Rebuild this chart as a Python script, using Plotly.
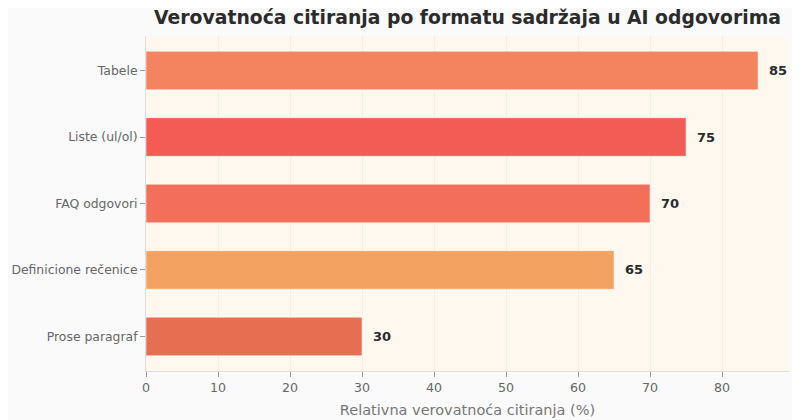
import plotly.graph_objects as go

# podaci
categories = ["Prose paragraf", "Definicione rečenice", "FAQ odgovori", "Liste (ul/ol)", "Tabele"]
values = [30, 65, 70, 75, 85]
colors = ["#E76F51", "#F4A261", "#F27059", "#F25C54", "#F4845F"]
x_ticks = [0, 10, 20, 30, 40, 50, 60, 70, 80]

fig = go.Figure()
fig.add_trace(go.Bar(
    x=values,
    y=categories,
    orientation="h",
    marker=dict(color=colors, line=dict(color="rgba(255,255,255,0.5)", width=1)),
    width=0.58,
    hoverinfo="skip",
))

# oznake vrednosti desno od traka
for cat, val in zip(categories, values):
    fig.add_annotation(
        x=val, y=cat, text=f"<b>{val}</b>",
        xanchor="left", yanchor="middle", xshift=9, showarrow=False,
        font=dict(family="DejaVu Sans", size=13, color="#2b2b2b"),
    )

fig.update_layout(
    width=800,
    height=420,
    title=dict(
        text="<b>Verovatnoća citiranja po formatu sadržaja u AI odgovorima</b>",
        xref="paper", x=0.5, xanchor="center",
        yref="container", y=1 - 9 / 420, yanchor="middle",
        font=dict(family="DejaVu Sans", size=18.8, color="#2b2b2b"),
    ),
    paper_bgcolor="#FAFAFA",
    plot_bgcolor="#FFF8EE",
    font=dict(family="DejaVu Sans", color="#666666"),
    margin=dict(l=138, r=19, t=28, b=57),
    showlegend=False,
    xaxis=dict(
        range=[0, 89.3],
        tickvals=x_ticks,
        ticks="outside",
        ticklen=5,
        tickcolor="#999999",
        tickfont=dict(size=12.6, color="#666666"),
        showgrid=True,
        gridcolor="#F3EDE4",
        showline=True,
        linecolor="#dddddd",
        zeroline=False,
        automargin=False,
        title=dict(text="Relativna verovatnoća citiranja (%)",
                   font=dict(size=14.5, color="#777777"), standoff=10),
    ),
    yaxis=dict(
        range=[-0.52, 4.52],
        ticks="outside",
        ticklen=5,
        tickcolor="#999999",
        tickfont=dict(size=12.4, color="#666666"),
        showgrid=False,
        showline=True,
        linecolor="#dddddd",
        automargin=False,
    ),
)

fig.write_html("out.html")
